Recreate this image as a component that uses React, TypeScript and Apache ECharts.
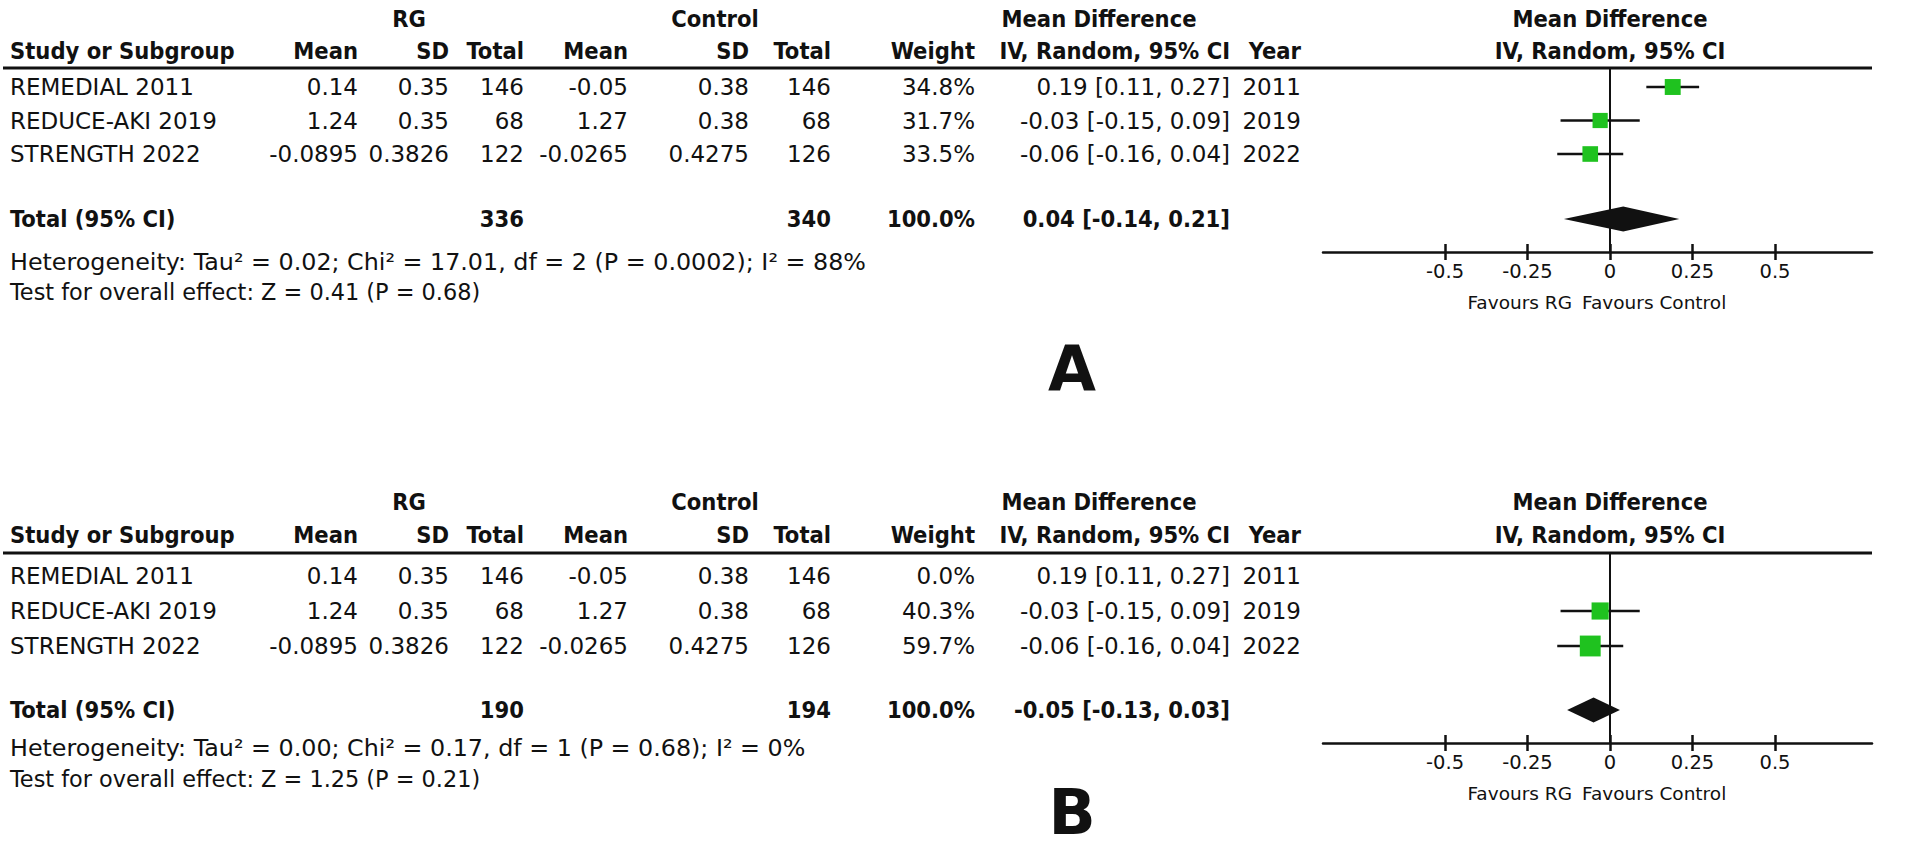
import React, { useEffect, useRef } from 'react';
import * as echarts from 'echarts';

// ---------- data ----------
const studies = ['REMEDIAL 2011', 'REDUCE-AKI 2019', 'STRENGTH 2022'];
const rgMean = ['0.14', '1.24', '-0.0895'];
const rgSD = ['0.35', '0.35', '0.3826'];
const rgTotal = [146, 68, 122];
const ctlMean = ['-0.05', '1.27', '-0.0265'];
const ctlSD = ['0.38', '0.38', '0.4275'];
const ctlTotal = [146, 68, 126];
const years = [2011, 2019, 2022];
const md = [0.19, -0.03, -0.06];
const ciLow = [0.11, -0.15, -0.16];
const ciHigh = [0.27, 0.09, 0.04];
const weightA = [34.8, 31.7, 33.5];
const weightB = [0.0, 40.3, 59.7];
const pooledA = [0.04, -0.14, 0.21];
const pooledB = [-0.05, -0.13, 0.03];
const totalsA = [336, 340];
const totalsB = [190, 194];
const hetA = 'Heterogeneity: Tau² = 0.02; Chi² = 17.01, df = 2 (P = 0.0002); I² = 88%';
const testA = 'Test for overall effect: Z = 0.41 (P = 0.68)';
const hetB = 'Heterogeneity: Tau² = 0.00; Chi² = 0.17, df = 1 (P = 0.68); I² = 0%';
const testB = 'Test for overall effect: Z = 1.25 (P = 0.21)';
const tickValues = [-0.5, -0.25, 0, 0.25, 0.5];
const tickLabels = ['-0.5', '-0.25', '0', '0.25', '0.5'];

// ---------- style / layout ----------
const FONT_REG = "'DejaVu Sans', sans-serif";
const FONT_BOLD = "'DejaVu Sans Condensed', 'DejaVu Sans', sans-serif";
const INK = '#111';
const GREEN = '#1fc21f';
const COL = { study: 10, rgMean: 358, rgSD: 449, rgTotal: 524, ctlMean: 628, ctlSD: 749, ctlTotal: 831, weight: 975, ci: 1230, year: 1301 };
const HDR = { rg: 409, ctl: 715, md: 1099, plot: 1610 };
const PLOT_L = 1323;
const PLOT_R = 1872;
const X_MIN = -0.87;
const X_MAX = 0.794;

const layouts = [
  { h1: 19, h2: 51, rule: 68, row0: 87, step: 33.5, total: 219, het: 262, test: 292, axis: 252, letter: 368, name: 'A' },
  { h1: 502, h2: 535, rule: 553, row0: 576, step: 35, total: 710, het: 748, test: 779, axis: 743, letter: 812, name: 'B' },
];
const panelWeights = [weightA, weightB];
const panelPooled = [pooledA, pooledB];
const panelTotals = [totalsA, totalsB];
const panelHet = [hetA, hetB];
const panelTest = [testA, testB];

const f2 = (v: number) => v.toFixed(2);
const ciText = (m: number, l: number, h: number) => `${f2(m)} [${f2(l)}, ${f2(h)}]`;

function txt(x: number, y: number, text: string, align = 'left', bold = false, size?: number) {
  const fs = size ?? (bold ? 23.5 : 23);
  return {
    type: 'text',
    x,
    y,
    silent: true,
    style: {
      text,
      fill: INK,
      font: `${bold ? 'bold ' : ''}${fs}px ${bold ? FONT_BOLD : FONT_REG}`,
      textAlign: align,
      align,
      textVerticalAlign: 'middle',
      verticalAlign: 'middle',
    },
  };
}

function hline(x1: number, x2: number, y: number, w: number) {
  return { type: 'line', silent: true, shape: { x1, y1: y, x2, y2: y }, style: { stroke: INK, lineWidth: w } };
}

function buildOption() {
  const graphics: any[] = [];
  const grids: any[] = [];
  const xAxes: any[] = [];
  const yAxes: any[] = [];
  const series: any[] = [];

  layouts.forEach((L, p) => {
    const weights = panelWeights[p];
    const pooled = panelPooled[p];
    const totals = panelTotals[p];
    const rowY = (i: number) => L.row0 + i * L.step;

    // headers
    graphics.push(txt(HDR.rg, L.h1, 'RG', 'center', true));
    graphics.push(txt(HDR.ctl, L.h1, 'Control', 'center', true));
    graphics.push(txt(HDR.md, L.h1, 'Mean Difference', 'center', true));
    graphics.push(txt(HDR.plot, L.h1, 'Mean Difference', 'center', true));
    graphics.push(txt(COL.study, L.h2, 'Study or Subgroup', 'left', true));
    graphics.push(txt(COL.rgMean, L.h2, 'Mean', 'right', true));
    graphics.push(txt(COL.rgSD, L.h2, 'SD', 'right', true));
    graphics.push(txt(COL.rgTotal, L.h2, 'Total', 'right', true));
    graphics.push(txt(COL.ctlMean, L.h2, 'Mean', 'right', true));
    graphics.push(txt(COL.ctlSD, L.h2, 'SD', 'right', true));
    graphics.push(txt(COL.ctlTotal, L.h2, 'Total', 'right', true));
    graphics.push(txt(COL.weight, L.h2, 'Weight', 'right', true));
    graphics.push(txt(COL.ci, L.h2, 'IV, Random, 95% CI', 'right', true));
    graphics.push(txt(COL.year, L.h2, 'Year', 'right', true));
    graphics.push(txt(HDR.plot, L.h2, 'IV, Random, 95% CI', 'center', true));
    graphics.push(hline(3, PLOT_R, L.rule, 3));

    // study rows
    studies.forEach((s, i) => {
      const y = rowY(i);
      graphics.push(txt(COL.study, y, s, 'left'));
      graphics.push(txt(COL.rgMean, y, rgMean[i], 'right'));
      graphics.push(txt(COL.rgSD, y, rgSD[i], 'right'));
      graphics.push(txt(COL.rgTotal, y, String(rgTotal[i]), 'right'));
      graphics.push(txt(COL.ctlMean, y, ctlMean[i], 'right'));
      graphics.push(txt(COL.ctlSD, y, ctlSD[i], 'right'));
      graphics.push(txt(COL.ctlTotal, y, String(ctlTotal[i]), 'right'));
      graphics.push(txt(COL.weight, y, `${weights[i].toFixed(1)}%`, 'right'));
      graphics.push(txt(COL.ci, y, ciText(md[i], ciLow[i], ciHigh[i]), 'right'));
      graphics.push(txt(COL.year, y, String(years[i]), 'right'));
    });

    // total row
    graphics.push(txt(COL.study, L.total, 'Total (95% CI)', 'left', true));
    graphics.push(txt(COL.rgTotal, L.total, String(totals[0]), 'right', true));
    graphics.push(txt(COL.ctlTotal, L.total, String(totals[1]), 'right', true));
    graphics.push(txt(COL.weight, L.total, `${weights.reduce((a, b) => a + b, 0).toFixed(1)}%`, 'right', true));
    graphics.push(txt(COL.ci, L.total, ciText(pooled[0], pooled[1], pooled[2]), 'right', true));
    graphics.push(txt(COL.study, L.het, panelHet[p], 'left', false, 23.8));
    graphics.push(txt(COL.study, L.test, panelTest[p], 'left', false, 22.4));

    // favours + panel letter
    graphics.push(txt(1572, L.axis + 50, 'Favours RG', 'right', false, 18.5));
    graphics.push(txt(1582, L.axis + 50, 'Favours Control', 'left', false, 18.5));
    graphics.push({
      type: 'text', x: 1072, y: L.letter, silent: true,
      style: {
        text: L.name, fill: INK, font: `bold 62px ${FONT_REG}`, lineHeight: 56,
        textAlign: 'center', align: 'center', textVerticalAlign: 'middle', verticalAlign: 'middle',
      },
    });

    // forest plot grid
    const yMin = -(L.row0 - L.rule) / L.step;
    const yMax = (L.axis - L.row0) / L.step;
    const totalPos = (L.total - L.row0) / L.step;
    grids.push({ left: PLOT_L, width: PLOT_R - PLOT_L, top: L.rule, height: L.axis - L.rule, containLabel: false });
    xAxes.push({
      type: 'value', gridIndex: p, min: X_MIN, max: X_MAX, position: 'bottom',
      splitLine: { show: false },
      axisLine: { show: true, onZero: false, lineStyle: { color: INK, width: 2.5 } },
      axisTick: { show: true, customValues: tickValues, length: 8, lineStyle: { color: INK, width: 2.5 } },
      axisLabel: {
        show: true, customValues: tickValues, margin: 9, color: INK, fontSize: 19.5, fontFamily: FONT_REG,
        formatter: (v: number) => tickLabels[tickValues.indexOf(v)] ?? String(v),
      },
    });
    xAxes.push({
      type: 'value', gridIndex: p, min: X_MIN, max: X_MAX, position: 'bottom',
      splitLine: { show: false },
      axisLine: { show: false, onZero: false },
      axisTick: { show: true, inside: true, customValues: tickValues, length: 8, lineStyle: { color: INK, width: 2.5 } },
      axisLabel: { show: false },
    });
    yAxes.push({ type: 'value', gridIndex: p, inverse: true, min: yMin, max: yMax, show: false });

    const studyData = studies
      .map((_, i) => ({ i, w: weights[i] }))
      .filter((d) => d.w > 0)
      .map((d) => [md[d.i], d.i, ciLow[d.i], ciHigh[d.i], 2.7 * Math.sqrt(d.w)]);

    series.push({
      type: 'custom', xAxisIndex: p * 2, yAxisIndex: p, silent: true,
      encode: { x: [0, 2, 3], y: 1 },
      data: studyData,
      renderItem: (params: any, api: any) => {
        const yv = api.value(1);
        const c = api.coord([api.value(0), yv]);
        const l = api.coord([api.value(2), yv]);
        const h = api.coord([api.value(3), yv]);
        const s = api.value(4);
        return {
          type: 'group',
          children: [
            { type: 'line', shape: { x1: l[0], y1: c[1], x2: h[0], y2: c[1] }, style: { stroke: INK, lineWidth: 2.5 } },
            { type: 'rect', shape: { x: c[0] - s / 2, y: c[1] - s / 2, width: s, height: s }, style: { fill: GREEN } },
          ],
        };
      },
      markLine: {
        silent: true, symbol: 'none', label: { show: false },
        lineStyle: { color: INK, width: 2, type: 'solid' },
        data: [{ xAxis: 0 }],
      },
      z: 3,
    });
    series.push({
      type: 'custom', xAxisIndex: p * 2, yAxisIndex: p, silent: true,
      encode: { x: [0, 2, 3], y: 1 },
      data: [[pooled[0], totalPos, pooled[1], pooled[2]]],
      renderItem: (params: any, api: any) => {
        const yv = api.value(1);
        const c = api.coord([api.value(0), yv]);
        const l = api.coord([api.value(2), yv]);
        const h = api.coord([api.value(3), yv]);
        const hh = 12.5;
        return {
          type: 'polygon',
          shape: { points: [[l[0], c[1]], [c[0], c[1] - hh], [h[0], c[1]], [c[0], c[1] + hh]] },
          style: { fill: INK },
        };
      },
      z: 4,
    });
  });

  return {
    animation: false,
    backgroundColor: '#ffffff',
    grid: grids,
    xAxis: xAxes,
    yAxis: yAxes,
    series,
    graphic: { elements: graphics },
  };
}

export default function App() {
  const ref = useRef<HTMLDivElement>(null);
  useEffect(() => {
    document.body.style.margin = '0';
    document.body.style.overflow = 'hidden';
    if (!ref.current) return;
    const chart = echarts.init(ref.current, undefined, { renderer: 'svg' });
    chart.setOption(buildOption() as any);
    return () => chart.dispose();
  }, []);
  return <div ref={ref} style={{ width: 1930, height: 849, background: '#fff' }} />;
}
